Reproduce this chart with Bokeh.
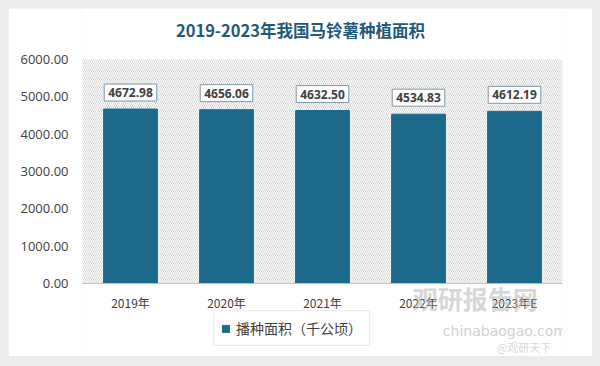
from bokeh.plotting import figure
from bokeh.models import (ColumnDataSource, Label, Legend, LegendItem,
                          NumeralTickFormatter, BoxAnnotation, FixedTicker, Range1d, FactorRange)
from bokeh.embed import file_html
from bokeh.resources import INLINE

title_text = "2019-2023年我国马铃薯种植面积"
years = ["2019年", "2020年", "2021年", "2022年", "2023年E"]
area = [4672.98, 4656.06, 4632.50, 4534.83, 4612.19]
series_name = "播种面积（千公顷）"
y_ticks = [0, 1000, 2000, 3000, 4000, 5000, 6000]

BAR = "#1b6a8c"
CJK = "Noto Sans CJK SC"

src = ColumnDataSource(dict(year=years, area=area))

# the frame extends above 6000 and below zero so that the title, legend and watermark are not clipped
p = figure(width=584, height=348, x_range=FactorRange(*years), y_range=Range1d(-1955, 7366),
           output_backend="svg", toolbar_location=None,
           min_border_left=74, min_border_right=30, min_border_top=0, min_border_bottom=0)
p.border_fill_color = "white"
p.background_fill_color = "white"
p.outline_line_color = None
p.xgrid.visible = False
p.ygrid.visible = False

hatch = BoxAnnotation(bottom=0, top=6000, fill_alpha=0, line_alpha=0,
                      hatch_pattern="left_diagonal_line",
                      hatch_color="#d6d6d6", hatch_scale=4, hatch_weight=1, level="underlay")
p.add_layout(hatch)

bars = p.vbar(x="year", top="area", bottom=0, width=0.56, color=BAR, source=src)

# value labels (x in the categorical axis' synthetic coordinates: centre of each factor)
for i, v in enumerate(area):
    p.add_layout(Label(x=i + 0.5, y=v, text=f"{v:.2f}", y_offset=8,
                       text_align="center", text_baseline="bottom", text_font_style="bold",
                       text_font_size="12px", text_color="#404040", text_font="Open Sans",
                       background_fill_color="white", border_line_color="#7d97a6",
                       border_line_width=1, padding=4))

# title
p.add_layout(Label(x=2.27, y=6777, text=title_text, text_align="center", text_baseline="middle",
                   text_font=CJK, text_font_style="bold", text_font_size="16.5px",
                   text_color="#1f5a7a"))

# axes
p.yaxis.ticker = FixedTicker(ticks=y_ticks)
p.yaxis.formatter = NumeralTickFormatter(format="0.00")
p.yaxis.axis_line_color = None
p.yaxis.major_tick_line_color = None
p.yaxis.minor_tick_line_color = None
p.yaxis.major_tick_out = 0
p.yaxis.major_label_standoff = 14
p.yaxis.major_label_text_font = "Open Sans"
p.yaxis.major_label_text_font_size = "13px"
p.yaxis.major_label_text_color = "#404040"

p.xaxis.fixed_location = 0
p.xaxis.axis_line_color = "#bfbfbf"
p.xaxis.major_tick_line_color = None
p.xaxis.major_tick_out = 0
p.xaxis.major_label_standoff = 10
p.xaxis.major_label_text_font = CJK
p.xaxis.major_label_text_font_size = "12px"
p.xaxis.major_label_text_color = "#404040"

# legend below the axis
legend = Legend(items=[LegendItem(label=series_name, renderers=[bars])], location=(131, 10),
                orientation="horizontal", label_text_font=CJK, label_text_font_size="14px",
                label_text_color="#404040", glyph_width=9, glyph_height=9, label_standoff=6,
                label_height=14, padding=7, margin=0, border_line_color="#d9d9d9",
                background_fill_color="white", background_fill_alpha=1)
p.add_layout(legend)

# watermark
p.add_layout(Label(x=4.09, y=-375, text="观研报告网", text_align="center", text_baseline="middle",
                   text_font=CJK, text_font_style="bold", text_font_size="25px",
                   text_color="#b5b5b5", text_alpha=0.55))
p.add_layout(Label(x=4.4, y=-1259, text="chinabaogao.com", text_align="center", text_baseline="middle",
                   text_font="DejaVu Sans", text_font_size="14px",
                   text_color="#b0b0b0", text_alpha=0.6))
p.add_layout(Label(x=4.6, y=-1690, text="@观研天下", text_align="center", text_baseline="middle",
                   text_font=CJK, text_font_size="11px",
                   text_color="#bbbbbb", text_alpha=0.6))

html = file_html(p, INLINE)
html = html.replace("</head>", "<style>body{background:#ececec;margin:8px;}</style></head>", 1)
open("out.html", "w").write(html)
